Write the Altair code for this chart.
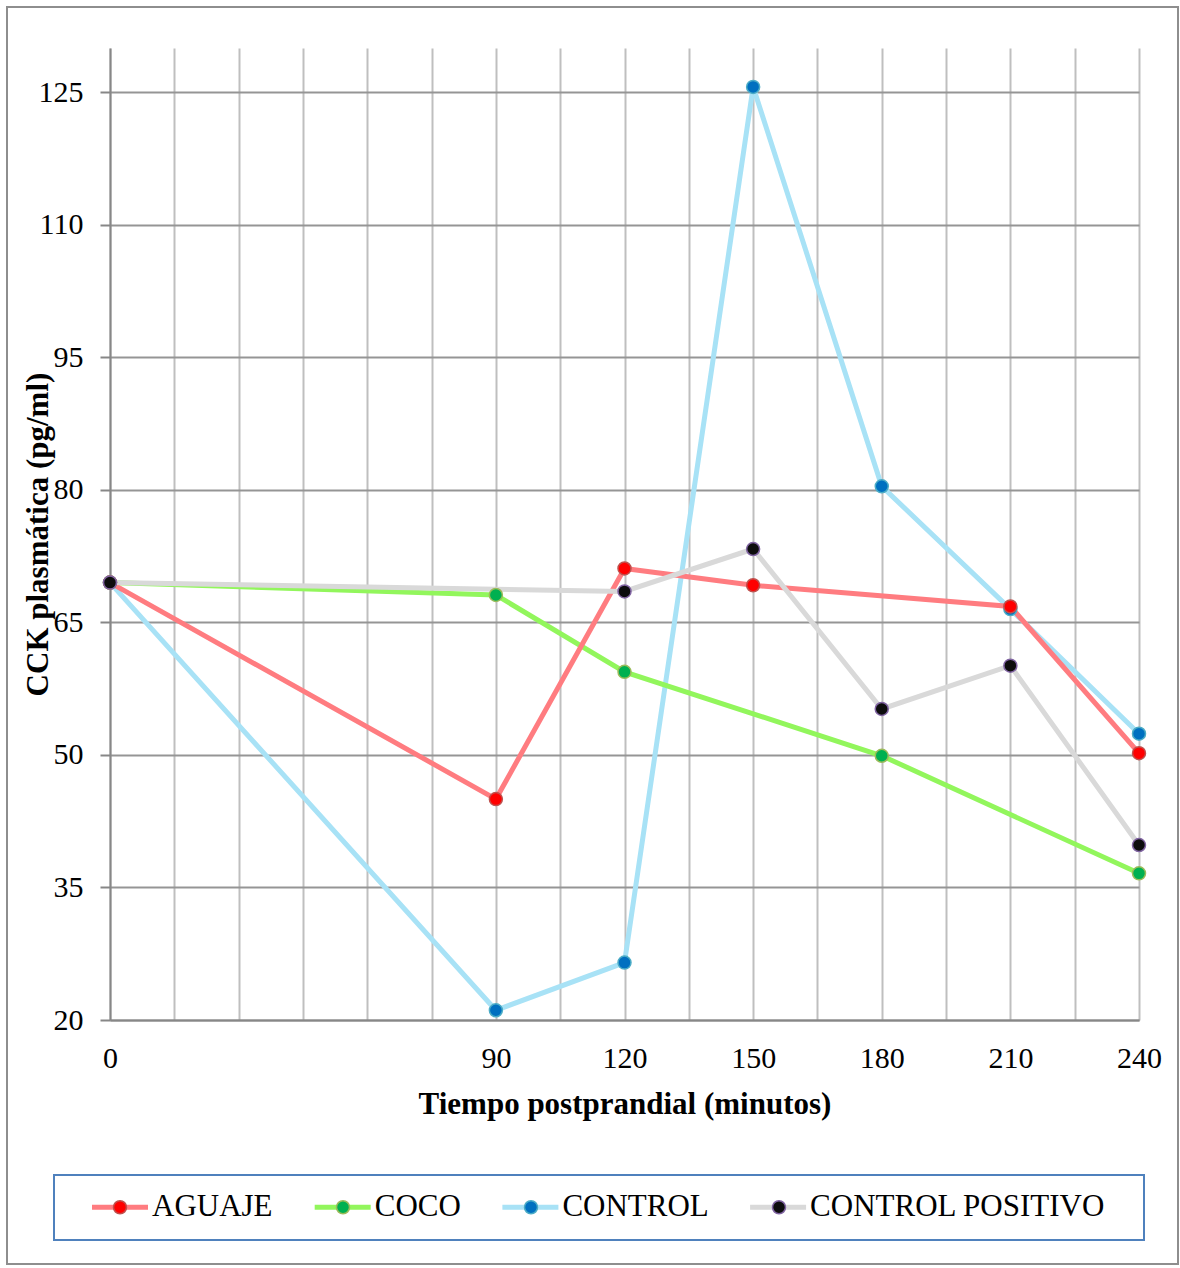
import altair as alt
import pandas as pd

# ---- data ----
times = [0, 90, 120, 150, 180, 210, 240]
series_names = ["AGUAJE", "COCO", "CONTROL", "CONTROL POSITIVO"]
aguaje = [69.5, 45.0, 71.1, 69.2, None, 66.8, 50.2]
coco = [69.5, 68.1, 59.4, None, 49.9, None, 36.6]
control = [69.5, 21.1, 26.5, 125.6, 80.4, 66.5, 52.4]
control_pos = [69.5, None, 68.5, 73.3, 55.2, 60.1, 39.8]

x_grid_values = list(range(0, 241, 15))
x_label_values = [0, 90, 120, 150, 180, 210, 240]
y_tick_values = [20, 35, 50, 65, 80, 95, 110, 125]

line_colors = ["#FF7C80", "#92F65C", "#A8E2F6", "#D9D9D9"]
marker_fill = ["#FF0000", "#00B050", "#0070C0", "#0D0D0D"]
marker_edge = ["#C0504D", "#9BBB59", "#4BACC6", "#8064A2"]

draw_order = ["CONTROL", "COCO", "AGUAJE", "CONTROL POSITIVO"]
values = dict(zip(series_names, [aguaje, coco, control, control_pos]))
rows = []
for s in draw_order:
    for t, v in zip(times, values[s]):
        if v is not None:
            rows.append({"t": t, "v": v, "serie": s, "serie_m": s})
df = pd.DataFrame(rows)

FONT = "Liberation Serif"

x_enc = alt.X(
    "t:Q",
    scale=alt.Scale(domain=[0, 240], nice=False, zero=False),
    axis=alt.Axis(
        values=x_grid_values,
        labelExpr="indexof([" + ",".join(str(v) for v in x_label_values) + "], datum.value) >= 0 ? datum.label : ''",
        ticks=False,
        grid=True,
        gridColor="#BFBFBF",
        gridWidth=2,
        domainColor="#878787",
        domainWidth=2,
        labelFont=FONT,
        labelFontSize=30,
        labelColor="#000000",
        labelPadding=23,
        labelFlush=False,
        labelOverlap=False,
        title="Tiempo postprandial (minutos)",
        titleFont=FONT,
        titleFontSize=31,
        titleFontWeight="bold",
        titleColor="#000000",
        titleBaseline="alphabetic",
        titleY=93,
    ),
)
y_enc = alt.Y(
    "v:Q",
    scale=alt.Scale(domain=[20, 130], nice=False, zero=False),
    axis=alt.Axis(
        values=y_tick_values,
        tickSize=10,
        tickColor="#878787",
        tickWidth=2,
        domainColor="#878787",
        domainWidth=2,
        grid=True,
        gridColor="#959595",
        gridWidth=2,
        labelFont=FONT,
        labelFontSize=30,
        labelColor="#000000",
        labelPadding=17,
        title="CCK plasmática (pg/ml)",
        titleFont=FONT,
        titleFontSize=31,
        titleFontWeight="bold",
        titleColor="#000000",
        titleAngle=270,
        titleBaseline="alphabetic",
        titleAlign="center",
        titleX=-63,
        titleY=486,
    ),
)

legend_common = dict(
    orient="none",
    legendX=-20.5,
    legendY=1128.5,
    direction="horizontal",
    columns=4,
    title=None,
    labelFont=FONT,
    labelFontSize=31,
    labelColor="#000000",
    labelLimit=500,
    labelOffset=1.5,
    padding=0,
)

# line legend symbol: a horizontal stroke with a gap where the marker sits
lines = alt.Chart(df).mark_line(strokeWidth=5).encode(
    x=x_enc,
    y=y_enc,
    color=alt.Color(
        "serie:N",
        scale=alt.Scale(domain=series_names, range=line_colors),
        legend=alt.Legend(
            symbolType="M-1,0L-0.2,0M0.2,0L1,0",
            symbolSize=3136,
            symbolStrokeWidth=5,
            columnPadding=30.7,
            **legend_common,
        ),
    ),
    order=alt.Order("t:Q"),
)

r = 0.2185
circle_path = f"M{-r},0A{r},{r},0,1,1,{r},0A{r},{r},0,1,1,{-r},0Z"
point_legend = alt.Legend(
    symbolType=circle_path,
    symbolSize=3540.25,
    symbolStrokeWidth=1.5,
    labelOpacity=0,
    columnPadding=39,
    **legend_common,
)
points = alt.Chart(df).mark_circle(size=169, strokeWidth=1.5, opacity=1).encode(
    x="t:Q",
    y="v:Q",
    fill=alt.Fill("serie_m:N", scale=alt.Scale(range=marker_fill), legend=point_legend),
    stroke=alt.Stroke("serie_m:N", scale=alt.Scale(range=marker_edge), legend=point_legend),
)

box_df = pd.DataFrame({"k": [0]})
frame = alt.Chart(box_df).mark_rect(fillOpacity=0, stroke="#8E8E8E", strokeWidth=2).encode(
    x=alt.value(-103), x2=alt.value(1068), y=alt.value(-41), y2=alt.value(1216)
)
legend_box = alt.Chart(box_df).mark_rect(fillOpacity=0, stroke="#4F81BD", strokeWidth=2).encode(
    x=alt.value(-56), x2=alt.value(1034), y=alt.value(1127), y2=alt.value(1192)
)

chart = (
    alt.layer(frame, legend_box, lines, points)
    .properties(width=1029, height=972, padding={"left": 6, "top": 6, "right": 0, "bottom": 0}, background="white")
    .configure_view(strokeWidth=0)
)

chart.save("out.html", embed_options={"renderer": "svg", "actions": False})
